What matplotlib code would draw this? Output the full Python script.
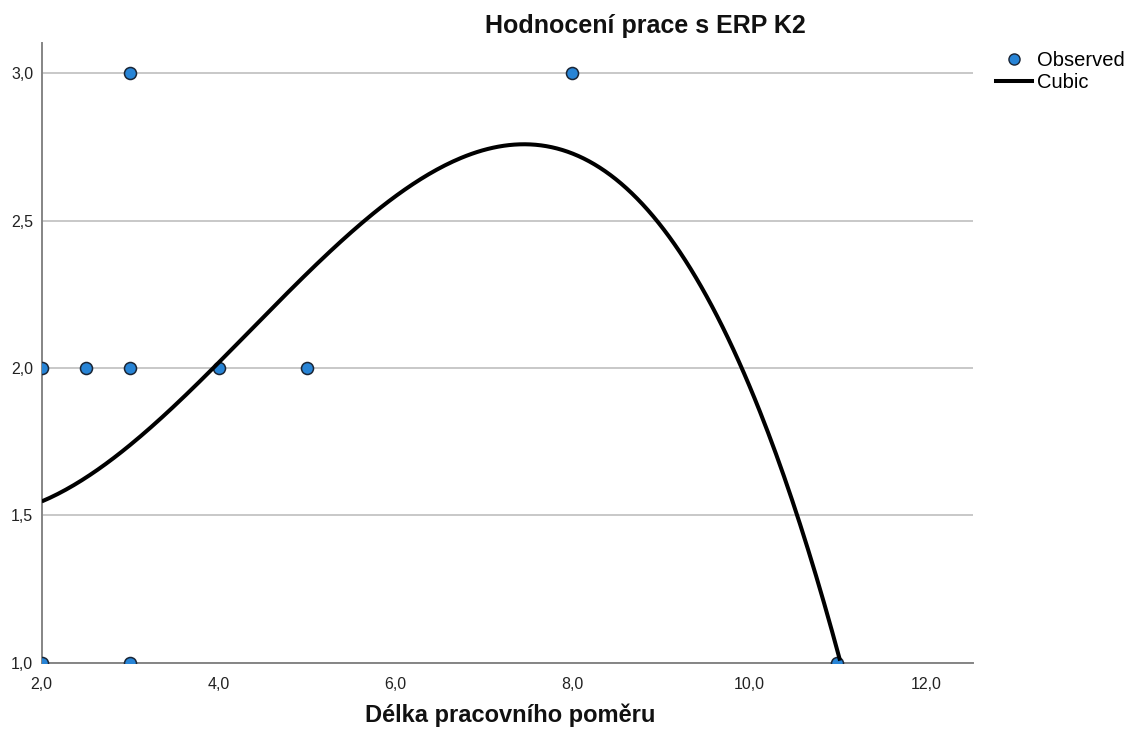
import matplotlib
matplotlib.use("Agg")
import matplotlib.pyplot as plt
import numpy as np
from matplotlib.lines import Line2D
from matplotlib.ticker import FuncFormatter

plt.rcParams['font.family'] = ['Liberation Sans', 'DejaVu Sans']

# Observed data
obs_x = [2.0, 2.5, 3.0, 4.0, 5.0, 3.0, 8.0, 2.0, 3.0, 11.0]
obs_y = [2.0, 2.0, 2.0, 2.0, 2.0, 3.0, 3.0, 1.0, 1.0, 1.0]

# Cubic fit curve
cubic_x = [2.0, 2.36, 2.74, 3.11, 3.49, 3.87, 4.24, 4.6, 5.0, 5.3, 5.6, 5.98,
           6.36, 6.73, 7.11, 7.41, 7.79, 8.17, 8.54, 8.92, 9.13, 9.37, 9.75,
           9.94, 10.13, 10.31, 10.56, 10.69, 10.88, 11.03]
cubic_y = [1.546, 1.609, 1.677, 1.767, 1.874, 1.993, 2.106, 2.205, 2.32, 2.41,
           2.496, 2.564, 2.644, 2.700, 2.737, 2.749, 2.740, 2.695, 2.627, 2.513,
           2.44, 2.333, 2.106, 1.999, 1.869, 1.722, 1.501, 1.371, 1.179, 1.003]

x_ticks = [2, 4, 6, 8, 10, 12]
y_ticks = [1.0, 1.5, 2.0, 2.5, 3.0]

title = "Hodnocení prace s ERP K2"
x_label = "Délka pracovního poměru"
legend_labels = ["Observed", "Cubic"]

W, H = 1127, 740
fig = plt.figure(figsize=(W / 100, H / 100), dpi=100)
ax = fig.add_axes([41.7 / W, 1 - 662.7 / H, (972.7 - 41.7) / W, (662.7 - 42.7) / H])

ax.set_xlim(2.0, 12.53)
ax.set_ylim(1.0, 3.104)

ax.set_yticks(y_ticks)
ax.set_xticks(x_ticks)
fmt = FuncFormatter(lambda v, p: f"{v:.1f}".replace(".", ","))
ax.xaxis.set_major_formatter(fmt)
ax.yaxis.set_major_formatter(fmt)
ax.tick_params(axis='both', length=0, labelsize=11.5, colors='#222222')
ax.tick_params(axis='x', pad=10)
ax.tick_params(axis='y', pad=6)

ax.yaxis.grid(True, color='#bfbfbf', linewidth=1.2)
ax.set_axisbelow(True)

for s in ['top', 'right']:
    ax.spines[s].set_visible(False)
for s in ['left', 'bottom']:
    ax.spines[s].set_color('#858585')
    ax.spines[s].set_linewidth(1.4)

point_color = '#2784d6'
edge_color = '#1a2535'
ax.scatter(obs_x, obs_y, s=75, color=point_color, edgecolors=edge_color,
           linewidths=1.1, zorder=3)

# the chart's line is a cubic regression: fit it to the read points
weights = np.ones(len(cubic_x))
weights[0] = weights[-1] = 4.0
coef = np.polyfit(cubic_x, cubic_y, 3, w=weights)
xs = np.linspace(min(cubic_x), max(cubic_x), 300)
ax.plot(xs, np.polyval(coef, xs), color='black', linewidth=2.9, zorder=4,
        solid_capstyle='butt')

fig.text(645 / W, 1 - 33 / H, title, ha='center', va='baseline',
         fontsize=18, fontweight='bold', color='#111111')
fig.text(510 / W, 1 - 722 / H, x_label, ha='center', va='baseline',
         fontsize=17, fontweight='bold', color='#111111')

handles = [
    Line2D([], [], linestyle='none', marker='o', markersize=8,
           markerfacecolor=point_color, markeredgecolor=edge_color, markeredgewidth=1.0),
    Line2D([], [], color='black', linewidth=2.9),
]
fig.legend(handles, legend_labels, loc='upper left',
           bbox_to_anchor=(996 / W, 1 - 51 / H), frameon=False,
           fontsize=14.5, handlelength=1.8, handletextpad=0.25,
           labelspacing=0.15, borderpad=0, borderaxespad=0)

fig.savefig("out.png", dpi=100)
